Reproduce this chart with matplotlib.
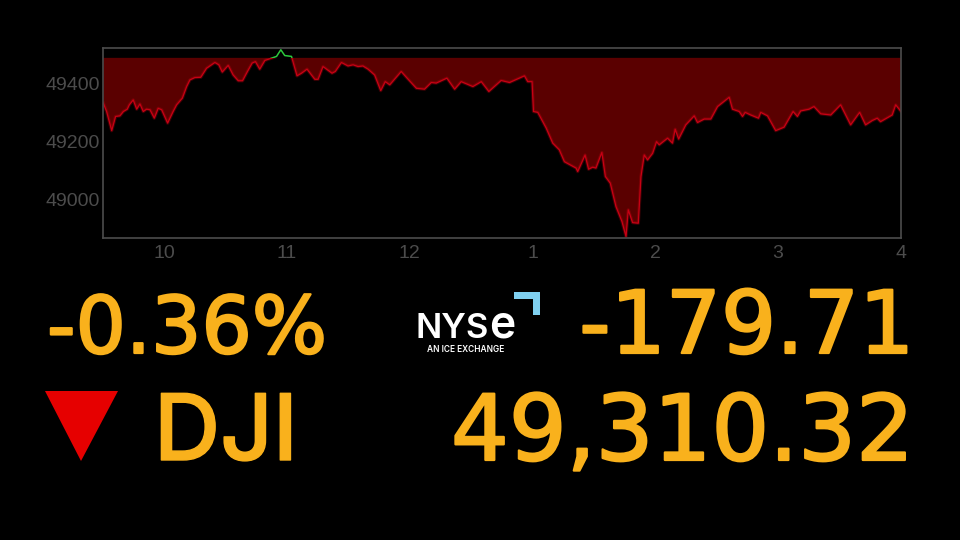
#!/usr/bin/env python3
# DJI intraday chart with the big ticker numbers underneath
import matplotlib
matplotlib.use('Agg')
import matplotlib.pyplot as plt
import matplotlib.patheffects as pe
from matplotlib.patches import Polygon, Rectangle

PREV_CLOSE = 49490.03

# minutes since 9:30
minutes = [0.4, 2.0, 4.5, 6.4, 8.5, 10.2, 12.1, 13.1, 15.0, 16.7, 18.3, 19.9, 21.5, 23.2, 25.3, 27.2, 28.9,
           31.8, 34.5, 36.2, 39.0, 41.1, 42.7, 45.1, 48.0, 50.8, 54.9, 56.8, 58.5, 61.4, 63.8, 66.3, 68.4,
           70.8, 73.1, 74.7, 76.8, 79.3, 82.5, 85.0, 87.1, 89.0, 92.3, 95.0, 97.2, 99.9, 103.7, 105.3, 107.7,
           112.1, 113.7, 116.7, 119.9, 122.4, 124.8, 127.2, 129.7, 132.9, 135.9, 138.1, 140.3, 145.9, 148.4,
           153.3, 157.3, 160.6, 163.0, 168.2, 172.0, 175.2, 180.9, 185.0, 188.7, 194.7, 198.8, 206.1, 207.7,
           209.8, 210.5, 212.6, 216.7, 219.9, 223.1, 225.6, 231.3, 232.1, 235.7, 237.4, 239.4, 241.0, 243.9,
           245.6, 248.0, 250.8, 253.7, 255.7, 256.8, 258.9, 261.7, 263.0, 264.6, 266.2, 268.7, 270.6, 271.9,
           276.0, 278.4, 279.7, 281.4, 284.9, 289.0, 290.6, 293.9, 297.1, 300.4, 306.1, 307.7, 311.0, 312.6,
           313.9, 316.6, 320.4, 321.5, 324.8, 328.8, 332.9, 337.3, 339.4, 341.0, 345.1, 347.5, 350.8, 355.7,
           360.5, 365.4, 369.8, 372.7, 376.0, 378.4, 380.0, 385.7, 387.4, 390.0]
index_values = [49334, 49305, 49239, 49288, 49290, 49305, 49313, 49328, 49345, 49313, 49331, 49305, 49313, 49311,
                49282, 49316, 49311, 49265, 49305, 49328, 49351, 49391, 49414, 49422, 49423, 49454, 49474, 49466,
                49441, 49464, 49431, 49411, 49411, 49443, 49472, 49477, 49451, 49481, 49489, 49495, 49518, 49498,
                49495, 49428, 49437, 49451, 49416, 49416, 49460, 49437, 49443, 49474, 49462, 49466, 49460, 49462,
                49451, 49431, 49377, 49408, 49397, 49443, 49423, 49385, 49382, 49405, 49403, 49420, 49382, 49408,
                49391, 49408, 49374, 49412, 49405, 49428, 49408, 49408, 49305, 49302, 49248, 49196, 49173, 49132,
                49110, 49098, 49155, 49106, 49113, 49110, 49164, 49081, 49058, 48977, 48926, 48874, 48966, 48922,
                48920, 49081, 49155, 49138, 49161, 49201, 49190, 49213, 49196, 49244, 49210, 49259, 49290, 49267,
                49279, 49279, 49322, 49354, 49313, 49305, 49288, 49302, 49293, 49282, 49302, 49290, 49239, 49251,
                49305, 49288, 49307, 49313, 49322, 49297, 49293, 49328, 49259, 49302, 49259, 49274, 49282, 49270,
                49293, 49328, 49305]

hour_ticks = [30, 90, 150, 210, 270, 330, 390]
hour_labels = ['10', '11', '12', '1', '2', '3', '4']
price_ticks = [49000, 49200, 49400]

pct_change = '-0.36%'
pt_change = '-179.71'
index_name = 'DJI'
index_last = '49,310.32'

ORANGE = '#f9b11c'
GREY = '#4c4c4c'

fig = plt.figure(figsize=(9.6, 5.4), dpi=100, facecolor='black')

ax = fig.add_axes([102.5/960, 1-238/540, (901-102.5)/960, 190/540], facecolor='black')
ax.set_xlim(0, 390)
ax.set_ylim(48869, 49524)
ax.fill_between(minutes, index_values, PREV_CLOSE, where=[v < PREV_CLOSE for v in index_values],
                interpolate=True, color='#5a0000', lw=0)

below = Rectangle((0, 48869), 390, PREV_CLOSE-48869, transform=ax.transData)
above = Rectangle((0, PREV_CLOSE), 390, 49524-PREV_CLOSE, transform=ax.transData)
red_glow, = ax.plot(minutes, index_values, color='#c00010', lw=2.4, alpha=0.3)
red_line, = ax.plot(minutes, index_values, color='#c80014', lw=0.9)
green_line, = ax.plot(minutes, index_values, color='#2cc83c', lw=1.1)
red_glow.set_clip_path(below)
red_line.set_clip_path(below)
green_line.set_clip_path(above)

ax.set_xticks(hour_ticks)
ax.set_xticklabels(hour_labels)
ax.set_yticks(price_ticks)
ax.tick_params(length=0, labelcolor=GREY, labelsize=14)
ax.tick_params(axis='x', pad=5)
ax.tick_params(axis='y', pad=2)
for label in ax.get_xticklabels() + ax.get_yticklabels():
    label.set_family('Liberation Sans')
for spine in ax.spines.values():
    spine.set_color(GREY)
    spine.set_linewidth(1.2)

# overlay in pixel coordinates for the ticker part
ov = fig.add_axes([0, 0, 1, 1], facecolor='none')
ov.set_xlim(0, 960)
ov.set_ylim(540, 0)
ov.axis('off')

# DejaVu is thinner than the original face, fatten it with a stroke
fat = [pe.withStroke(linewidth=1.6, foreground=ORANGE)]
big = dict(color=ORANGE, family='DejaVu Sans', va='baseline', path_effects=fat)
ov.text(47, 353, pct_change, ha='left', fontsize=57, **big)
ov.text(914, 353, pt_change, ha='right', fontsize=62.5, **big)
ov.text(914, 460, index_last, ha='right', fontsize=65.5, **big)
ov.text(154, 460, index_name, ha='left', color=ORANGE, family='Inter', fontsize=66, fontweight='medium',
        va='baseline', path_effects=[pe.withStroke(linewidth=1.0, foreground=ORANGE)])

ov.add_patch(Polygon([(45, 391), (118, 391), (81, 461)], color='#e60000', lw=0))

# NYSE logo
logo = dict(color='white', family='Inter', fontweight='semibold', ha='left', va='baseline')
ov.text(416, 338, 'NYS', fontsize=25, **logo)
ov.text(489, 338, 'e', fontsize=32, **logo)
ov.text(427, 352, 'AN ICE EXCHANGE', fontsize=6, **logo)
ov.add_patch(Polygon([(514, 292), (540, 292), (540, 315), (533, 315), (533, 299), (514, 299)], color='#7fd0f0', lw=0))

fig.savefig('out.png', dpi=100, facecolor='black')
